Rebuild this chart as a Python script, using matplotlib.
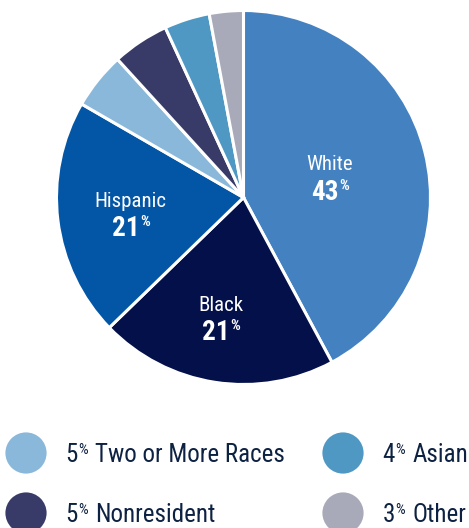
import matplotlib
matplotlib.use("Agg")
import numpy as np
import matplotlib.pyplot as plt
from matplotlib.transforms import IdentityTransform

plt.rcParams['font.family'] = ['Roboto Condensed', 'Roboto', 'DejaVu Sans']

# enrollment by race / ethnicity
groups = ["White", "Black", "Hispanic", "Two or More Races", "Nonresident", "Asian", "Other"]
shares = [43, 21, 21, 5, 5, 4, 3]
colors = ["#4381c1", "#03104a", "#0356a6", "#8ab8da", "#383b68", "#4f98c3", "#a8aab9"]
inside = ["White", "Black", "Hispanic"]
# (radius, angle tweak in degrees) for the labels drawn inside the big slices
inside_pos = {"White": (0.467, -6), "Black": (0.695, -1), "Hispanic": (0.616, 5)}
legend_order = ["Two or More Races", "Asian", "Nonresident", "Other"]

navy = "#0d2142"
W, H = 469, 528
fig = plt.figure(figsize=(W / 100, H / 100), dpi=100)
ident = IdentityTransform()

cx, cy, R = 243.5, 197.5, 187
ax = fig.add_axes([(cx - R) / W, (H - cy - R) / H, 2 * R / W, 2 * R / H])
wedges, _ = ax.pie(shares, colors=colors, startangle=90, counterclock=False,
                   radius=1, wedgeprops=dict(edgecolor="white", linewidth=2.2))
ax.set_xlim(-1, 1)
ax.set_ylim(-1, 1)
ax.set_aspect("equal")
ax.axis("off")

renderer = fig.canvas.get_renderer()


def num_pct(px, py, num, size, color, weight, pct_size, pct_weight, center=True, gap=1.0):
    # number with a small raised % sign; px, py in display pixels, py = baseline
    t = fig.text(px, py, num, transform=ident, fontsize=size, color=color,
                 fontweight=weight, ha="left", va="baseline")
    bb = t.get_window_extent(renderer)
    p = fig.text(0, 0, "%", transform=ident, fontsize=pct_size, color=color,
                 fontweight=pct_weight, ha="left", va="top")
    pb = p.get_window_extent(renderer)
    total = bb.width + gap + pb.width
    x0 = px - total / 2 if center else px
    t.set_x(x0)
    p.set_position((x0 + bb.width + gap, bb.y1))
    return x0 + total


for w, g, s in zip(wedges, groups, shares):
    if g not in inside:
        continue
    r, tweak = inside_pos[g]
    mid = np.deg2rad((w.theta1 + w.theta2) / 2 + tweak)
    dx, dy = ax.transData.transform((r * np.cos(mid), r * np.sin(mid)))
    fig.text(dx, dy + 14.7, g, transform=ident, fontsize=15, color="white",
             ha="center", va="baseline")
    num_pct(dx, dy - 14.8, str(s), 19.5, "white", "bold", 11, "bold", gap=0.3)

# legend at the bottom: (circle x, circle y) from the top-left corner
lax = fig.add_axes([0, 0, 1, 1])
lax.set_xlim(0, W)
lax.set_ylim(H, 0)
lax.axis("off")
slots = [(26, 453), (343, 453), (26, 513), (343, 513)]
for g, (lx, ly) in zip(legend_order, slots):
    i = groups.index(g)
    lax.scatter([lx], [ly], s=880, color=colors[i], edgecolors="none", clip_on=False)
    base = H - (ly + 8.7)
    end = num_pct(lx + 39.5, base, str(shares[i]), 18, navy, "normal", 11, "normal",
                  center=False, gap=0.3)
    fig.text(end + 7.5, base, g, transform=ident, fontsize=18, color=navy,
             ha="left", va="baseline")

fig.savefig("out.png", dpi=100)
